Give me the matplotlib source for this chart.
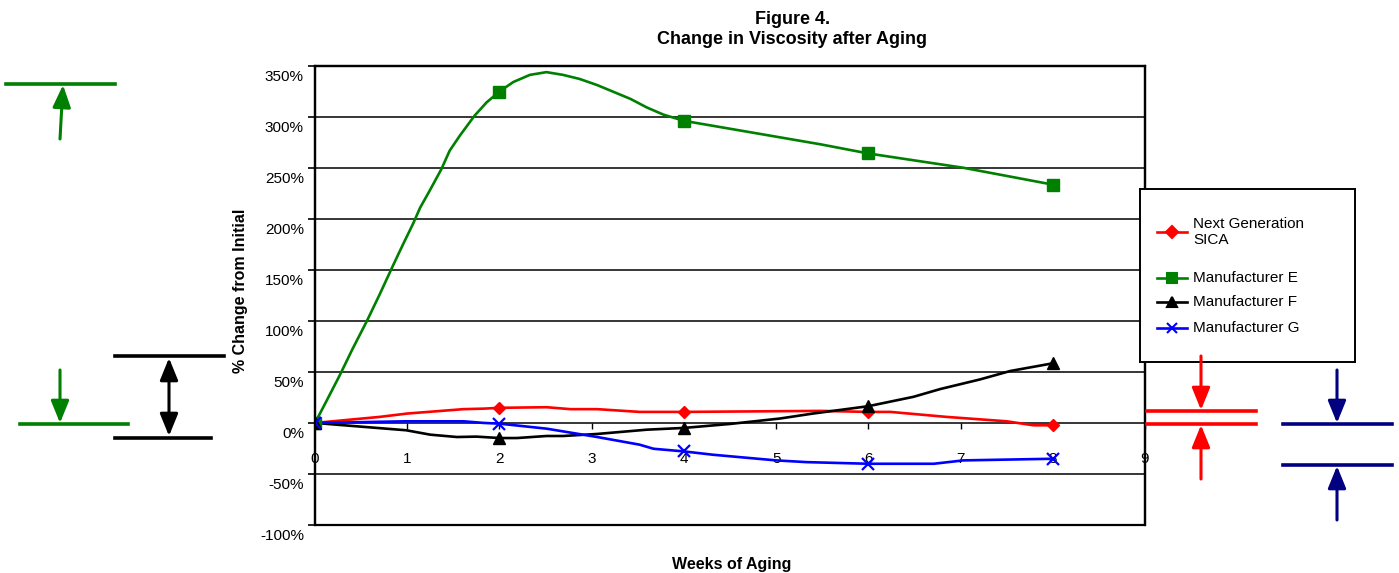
import numpy as np
import matplotlib
matplotlib.use('Agg')
import matplotlib.pyplot as plt
from matplotlib.lines import Line2D
from matplotlib.patches import FancyArrowPatch, Rectangle
from matplotlib.ticker import FuncFormatter
import matplotlib.transforms as mtransforms

plt.rcParams['font.family'] = ['Liberation Sans', 'DejaVu Sans']

# marker values (weeks 0, 2, 4, 6, 8)
weeks = [0, 2, 4, 6, 8]
sica_pts = [0, 14.8, 10.8, 10.8, -2.3]
mfr_e_pts = [0, 324.7, 296, 264, 233.5]
mfr_f_pts = [0, -14.8, -4.9, 16.4, 58.4]
mfr_g_pts = [0, -0.7, -27.9, -40, -35.1]

# smoothed curves
sica_x = [0, 0.7, 1.0, 1.61, 1.83, 2, 2.51, 2.77, 3.06, 3.52, 4, 5.48, 6, 6.24, 6.85, 7.5, 7.79, 8]
sica_y = [0, 5.9, 9.2, 13.5, 14, 14.8, 15.4, 13.5, 13.5, 10.8, 10.8, 11.8, 10.8, 10.8, 5.9, 1.6, -2.3, -2.3]

mfr_e_x = [0, 0.12, 0.27, 0.41, 0.56, 0.70, 0.85, 0.96, 1.06, 1.14, 1.24, 1.37, 1.46, 1.57, 1.73, 1.86, 2,
           2.15, 2.33, 2.51, 2.69, 2.87, 3.06, 3.42, 3.6, 3.78, 4, 5.48, 6, 7.03, 8]
mfr_e_y = [0, 20.7, 47, 73, 99.4, 125.7, 155, 176, 194.5, 210.9, 227, 248.6, 266.7, 281.4, 301, 314, 324.7,
           334, 341, 343.7, 341, 337, 331, 317.5, 309, 302, 296, 273, 264, 250, 233.5]

mfr_f_x = [0, 0.99, 1.25, 1.54, 1.75, 2, 2.19, 2.51, 2.69, 3.06, 3.6, 4, 4.5, 5.04, 5.4, 6, 6.49, 6.78, 7.21, 7.54, 8]
mfr_f_y = [0, -7.2, -11.5, -13.8, -13.4, -14.8, -14.8, -12.8, -12.8, -10.8, -6.6, -4.9, -1, 4.3, 9.2, 16.4,
           25.6, 33.2, 42.6, 50.9, 58.4]

mfr_g_x = [0, 0.99, 1.61, 1.83, 2, 2.51, 3.06, 3.52, 3.67, 4, 4.32, 5.0, 5.33, 6, 6.71, 7.03, 8]
mfr_g_y = [0, 1.6, 1.6, 0, -0.7, -5.6, -13.8, -21.3, -25.3, -27.9, -31.2, -36.7, -38.4, -40, -40, -36.7, -35.1]

W, H = 1399, 573
fig = plt.figure(figsize=(W / 100, H / 100), dpi=100)


def fx(x):
    return x / W


def fy(y):
    return 1 - y / H


ax = fig.add_axes([fx(315), fy(525), (1145 - 315) / W, (525 - 65.7) / H])
ax.set_xlim(0, 9)
ax.set_ylim(-100, 350)

lw = 1.9
ax.plot(sica_x, sica_y, color='#FF0000', lw=lw, zorder=3)
ax.plot(weeks, sica_pts, 'D', color='#FF0000', ms=6.5, zorder=4)
ax.plot(mfr_e_x, mfr_e_y, color='#008000', lw=lw, zorder=3)
ax.plot(weeks, mfr_e_pts, 's', color='#008000', ms=8, zorder=4)
ax.plot(mfr_f_x, mfr_f_y, color='black', lw=lw, zorder=3)
ax.plot(weeks, mfr_f_pts, '^', color='black', ms=8, zorder=4)
ax.plot(mfr_g_x, mfr_g_y, color='#0000FF', lw=lw, zorder=3)
ax.plot(weeks, mfr_g_pts, 'x', color='#0000FF', ms=8, mew=1.6, zorder=4)

# grid and frame
yt = np.arange(-100, 351, 50)
ax.set_yticks(yt)
ax.yaxis.set_major_formatter(FuncFormatter(lambda v, p: '%d%%' % v))
for v in yt:
    if v not in (-100, 0, 350):
        ax.axhline(v, color='black', lw=1.1, zorder=1)
for s in ['top', 'right', 'left']:
    ax.spines[s].set_linewidth(1.6)
ax.spines['bottom'].set_position(('data', 0))
ax.spines['bottom'].set_linewidth(1.1)
ax.add_patch(Rectangle((0, 0), 1, 1, transform=ax.transAxes, fill=False,
                       lw=1.6, edgecolor='black', zorder=5, clip_on=False))

ax.set_xticks(range(10))
ax.tick_params(axis='x', direction='out', length=4, width=1, pad=17, labelsize=11)
ax.tick_params(axis='y', direction='out', length=5, width=1.2, pad=3, labelsize=11)
off = mtransforms.ScaledTranslation(0, -0.1, fig.dpi_scale_trans)
for lab in ax.get_yticklabels():
    lab.set_transform(lab.get_transform() + off)

ax.set_ylabel('% Change from Initial', fontsize=11.5, fontweight='bold')
ax.yaxis.set_label_coords((248 - 315) / 830, (525 - 291) / 459.3)

fig.text(fx(732), fy(565), 'Weeks of Aging', fontsize=11.5, fontweight='bold', ha='center', va='center')
fig.text(fx(793), fy(20), 'Figure 4.', fontsize=13, fontweight='bold', ha='center', va='center')
fig.text(fx(792), fy(40), 'Change in Viscosity after Aging', fontsize=13, fontweight='bold',
         ha='center', va='center')

# legend box drawn by hand
lax = fig.add_axes([fx(1140), fy(362), 215 / W, 173 / H])
lax.set_xlim(0, 215)
lax.set_ylim(173, 0)
lax.set_xticks([])
lax.set_yticks([])
for s in lax.spines.values():
    s.set_linewidth(1.4)
entries = [('Next Generation\nSICA', '#FF0000', 'D', 6, 43),
           ('Manufacturer E', '#008000', 's', 7, 89),
           ('Manufacturer F', 'black', '^', 7, 113),
           ('Manufacturer G', '#0000FF', 'x', 7, 139)]
for label, c, m, ms, yy in entries:
    lax.plot([17, 47], [yy, yy], color=c, lw=lw)
    lax.plot([32], [yy], m, color=c, ms=ms, mew=1.5)
    lax.text(53, yy, label, fontsize=11, va='center', ha='left', linespacing=1.25)


# annotation lines and arrows outside the chart
def hline(x0, x1, y, c):
    fig.add_artist(Line2D([fx(x0), fx(x1)], [fy(y), fy(y)], color=c, lw=2.6))


def arrow(x0, y0, x1, y1, c, style='-|>'):
    a = FancyArrowPatch((fx(x0), fy(y0)), (fx(x1), fy(y1)), transform=fig.transFigure,
                        arrowstyle=style + ',head_length=1.35,head_width=0.55',
                        mutation_scale=10, color=c, lw=2.2, shrinkA=0, shrinkB=0)
    fig.add_artist(a)


green = '#008000'
hline(6, 115, 84, green)
arrow(60, 139, 63, 85, green)
hline(20, 128, 424, green)
arrow(60, 370, 60, 423, green)

hline(115, 224, 356, 'black')
hline(115, 211, 438, 'black')
arrow(169, 358, 169, 436, 'black', '<|-|>')

red = '#FF0000'
hline(1147, 1256, 411, red)
hline(1147, 1256, 424, red)
arrow(1201, 356, 1201, 410, red)
arrow(1201, 479, 1201, 425, red)

navy = '#000080'
hline(1283, 1392, 424, navy)
hline(1283, 1392, 465, navy)
arrow(1337, 370, 1337, 423, navy)
arrow(1337, 520, 1337, 466, navy)

fig.savefig('out.png', dpi=100)
